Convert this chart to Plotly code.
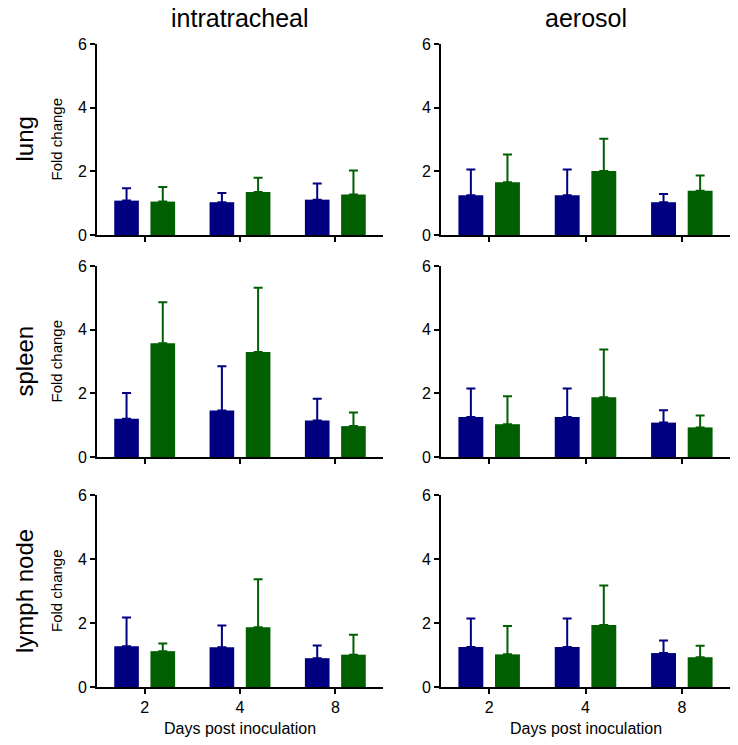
import plotly.graph_objects as go
from plotly.subplots import make_subplots

days = ["2", "4", "8"]
routes = ["intratracheal", "aerosol"]
tissues = ["lung", "spleen", "lymph node"]

# mean values (blue series, green series) and upper error values
lung_it_blue = [1.08, 1.03, 1.11]
lung_it_blue_err = [1.47, 1.32, 1.62]
lung_it_green = [1.05, 1.35, 1.27]
lung_it_green_err = [1.51, 1.80, 2.03]

lung_ae_blue = [1.25, 1.25, 1.03]
lung_ae_blue_err = [2.06, 2.06, 1.29]
lung_ae_green = [1.66, 2.01, 1.39]
lung_ae_green_err = [2.53, 3.02, 1.87]

spleen_it_blue = [1.20, 1.46, 1.15]
spleen_it_blue_err = [2.01, 2.85, 1.83]
spleen_it_green = [3.57, 3.30, 0.97]
spleen_it_green_err = [4.86, 5.32, 1.40]

spleen_ae_blue = [1.26, 1.26, 1.08]
spleen_ae_blue_err = [2.15, 2.15, 1.47]
spleen_ae_green = [1.03, 1.88, 0.93]
spleen_ae_green_err = [1.91, 3.38, 1.30]

lymph_it_blue = [1.27, 1.24, 0.90]
lymph_it_blue_err = [2.17, 1.92, 1.30]
lymph_it_green = [1.12, 1.87, 1.01]
lymph_it_green_err = [1.36, 3.37, 1.63]

lymph_ae_blue = [1.25, 1.25, 1.06]
lymph_ae_blue_err = [2.14, 2.14, 1.45]
lymph_ae_green = [1.02, 1.94, 0.93]
lymph_ae_green_err = [1.91, 3.17, 1.29]

y_ticks = [0, 2, 4, 6]

panels = [
    [(lung_it_blue, lung_it_blue_err, lung_it_green, lung_it_green_err),
     (lung_ae_blue, lung_ae_blue_err, lung_ae_green, lung_ae_green_err)],
    [(spleen_it_blue, spleen_it_blue_err, spleen_it_green, spleen_it_green_err),
     (spleen_ae_blue, spleen_ae_blue_err, spleen_ae_green, spleen_ae_green_err)],
    [(lymph_it_blue, lymph_it_blue_err, lymph_it_green, lymph_it_green_err),
     (lymph_ae_blue, lymph_ae_blue_err, lymph_ae_green, lymph_ae_green_err)],
]

BLUE = "#000080"
GREEN = "#005f00"
FONT = "Liberation Sans, Arial, sans-serif"

W, H = 738, 745
# plot area in page pixels: x 97..730, y 44..687
ML = 97
MR = W - 730
MT = 44
MB = H - 687
PW = W - ML - MR
PH = H - MT - MB

def px_x(p):
    return (p - ML) / PW

def px_y(p):
    return (H - MB - p) / PH

fig = make_subplots(rows=3, cols=2)

for r in range(3):
    for c in range(2):
        blue, blue_err, green, green_err = panels[r][c]
        for vals, tops, col in ((blue, blue_err, BLUE), (green, green_err, GREEN)):
            fig.add_trace(go.Bar(
                x=days, y=vals,
                marker=dict(color=col, line=dict(width=0)),
                error_y=dict(type="data", symmetric=False,
                             array=[t - v for t, v in zip(tops, vals)],
                             arrayminus=[0] * len(vals),
                             color=col, thickness=2, width=4.5),
                showlegend=False,
            ), row=r + 1, col=c + 1)

x_domains = [[0, px_x(383)], [px_x(441), 1]]
y_domains = [[px_y(235), 1], [px_y(457), px_y(266)], [0, px_y(495)]]

for r in range(3):
    for c in range(2):
        idx = r * 2 + c + 1
        xa = "xaxis" if idx == 1 else f"xaxis{idx}"
        ya = "yaxis" if idx == 1 else f"yaxis{idx}"
        fig.layout[xa].update(
            domain=x_domains[c], range=[-0.5, 2.5], type="category",
            showline=True, linecolor="black", linewidth=2,
            ticks="outside", ticklen=5, tickwidth=2, tickcolor="black",
            showticklabels=(r == 2), showgrid=False, zeroline=False,
            tickfont=dict(family=FONT, size=16, color="black"),
        )
        fig.layout[ya].update(
            domain=y_domains[r], range=[0, 6], tickvals=y_ticks,
            showline=True, linecolor="black", linewidth=2,
            ticks="outside", ticklen=5, tickwidth=2, tickcolor="black",
            showgrid=False, zeroline=False,
            tickfont=dict(family=FONT, size=16, color="black"),
        )

annotations = []
col_centers = [(97 + 383) / 2, (441 + 730) / 2]
for c, name in enumerate(routes):
    annotations.append(dict(text=name, x=px_x(col_centers[c]), y=px_y(18),
                            xref="paper", yref="paper", showarrow=False,
                            xanchor="center", yanchor="middle",
                            font=dict(family=FONT, size=25, color="black")))
row_centers = [(44 + 235) / 2, (266 + 457) / 2, (495 + 687) / 2]
for r, name in enumerate(tissues):
    annotations.append(dict(text=name, x=px_x(24), y=px_y(row_centers[r]),
                            xref="paper", yref="paper", showarrow=False,
                            textangle=-90, xanchor="center", yanchor="middle",
                            font=dict(family=FONT, size=24, color="black")))
    annotations.append(dict(text="Fold change", x=px_x(56), y=px_y(row_centers[r]),
                            xref="paper", yref="paper", showarrow=False,
                            textangle=-90, xanchor="center", yanchor="middle",
                            font=dict(family=FONT, size=15, color="black")))
for c in range(2):
    annotations.append(dict(text="Days post inoculation", x=px_x(col_centers[c]), y=px_y(728),
                            xref="paper", yref="paper", showarrow=False,
                            xanchor="center", yanchor="middle",
                            font=dict(family=FONT, size=16, color="black")))

fig.update_layout(
    width=W, height=H,
    margin=dict(l=ML, r=MR, t=MT, b=MB),
    barmode="group", bargap=0.24, bargroupgap=0.32,
    plot_bgcolor="white", paper_bgcolor="white",
    annotations=annotations,
    font=dict(family=FONT, color="black"),
)

fig.write_html("out.html",
               config={"displayModeBar": False},
               post_script="document.body.style.margin='0';document.body.style.overflow='hidden';")
